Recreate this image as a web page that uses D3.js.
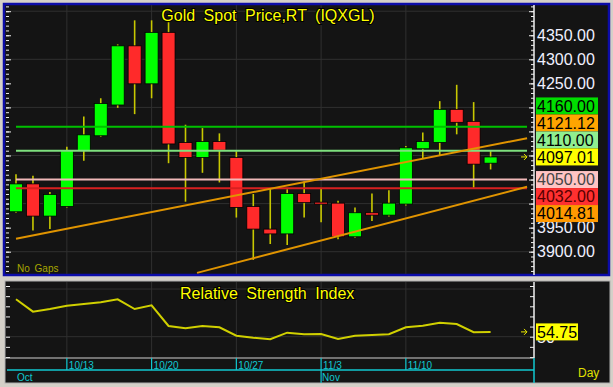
<!DOCTYPE html>
<html>
<head>
<meta charset="utf-8">
<title>Gold Spot Price,RT (IQXGL)</title>
<script src="https://d3js.org/d3.v7.min.js"></script>
<style>
body {margin:0; background:#d4d0c8;}
svg {display:block; font-family:Arial, "Liberation Sans", sans-serif;}
</style>
</head>
<body>
<script>
// daily bars, no gaps
var dates = ["2025-10-08","2025-10-09","2025-10-10","2025-10-13","2025-10-14","2025-10-15","2025-10-16","2025-10-17",
  "2025-10-20","2025-10-21","2025-10-22","2025-10-23","2025-10-24","2025-10-27","2025-10-28","2025-10-29","2025-10-30",
  "2025-10-31","2025-11-03","2025-11-04","2025-11-05","2025-11-06","2025-11-07","2025-11-10","2025-11-11","2025-11-12",
  "2025-11-13","2025-11-14","2025-11-17"];
var opens  = [3983, 4041, 3974, 3994, 4110, 4141, 4205, 4328, 4249, 4356, 4127, 4096, 4129, 4096, 3994,
              3947, 3937, 4021, 4003, 4001, 3931, 3981, 3976, 3999, 4114, 4127, 4196, 4171, 4084];
var highs  = [4061, 4058, 4024, 4118, 4181, 4219, 4331, 4381, 4381, 4377, 4164, 4157, 4146, 4109, 4020,
              4032, 4030, 4046, 4032, 4006, 3992, 4021, 4028, 4120, 4148, 4213, 4247, 4211, 4110];
var lows   = [3981, 3944, 3947, 3992, 4089, 4139, 4199, 4186, 4219, 4084, 4004, 4064, 4044, 3971, 3883,
              3916, 3914, 3971, 3961, 3926, 3929, 3964, 3973, 3996, 4094, 4100, 4144, 4033, 4071];
var closes = [4041, 3974, 4019, 4110, 4143, 4208, 4328, 4249, 4356, 4124, 4096, 4129, 4111, 3992, 3947,
              3937, 4021, 4002, 3999, 3931, 3981, 3976, 4001, 4116, 4129, 4196, 4169, 4082, 4097.01];
var rsi    = [86.9, 74.7, 77.3, 80.6, 82.3, 83.9, 86.9, 77.3, 81, 60.6, 58.3, 60.6, 59.3, 51, 49,
              47.5, 54, 52.4, 52.7, 47.8, 51, 51.7, 52.4, 59.3, 60.9, 63.8, 62.5, 54.5, 54.75];

var weekTicks  = ["2025-10-13", "2025-10-20", "2025-10-27", "2025-11-03", "2025-11-10"];
var monthTicks = ["2025-10-08", "2025-11-03"];

var levels = [4160, 4110, 4050, 4032];
var levelColors = ["#00c000", "#7ee07e", "#f0b8b8", "#d82020"];
// trend lines: [bar index, price] at each end
var trendStart = [[0, 3927], [10.68, 3856]];
var trendEnd   = [[30.15, 4136], [30.15, 4035]];

var tagValues = [4160, 4121.12, 4110, 4097.01, 4050, 4032, 4014.81];
var tagColors = ["#00dd00", "#ffa500", "#90ee90", "#ffff00", "#ffc4c4", "#ff3030", "#ff9900"];
var tagText   = ["#000", "#000", "#000", "#000", "#444", "#500", "#000"];
var priceTicks = [4350, 4300, 4250, 3950, 3900];
var rsiTicks = [50];
var rsiLast = 54.75;

var W = 613, H = 387;
var svg = d3.select("body").append("svg").attr("width", W).attr("height", H);
svg.append("rect").attr("width", W).attr("height", H).attr("fill", "#d4d0c8");

var x = d3.scaleLinear().domain([0, 28]).range([16, 490.6]);
var y = d3.scaleLinear().domain([3900, 4300]).range([251.7, 59.3]);
var yr = d3.scaleLinear().domain([30, 100]).range([357, 286]);
var parse = d3.timeParse("%Y-%m-%d");
var days = dates.map(parse);

var weeks = weekTicks.map(function(d) { return dates.indexOf(d); });
var months = monthTicks.map(function(d) { return dates.indexOf(d); });

// ---------- price panel ----------
svg.append("rect").attr("x", 4).attr("y", 4).attr("width", 605).attr("height", 271)
  .attr("fill", "#141414").attr("stroke", "#0c0ca8").attr("stroke-width", 2.5);
svg.append("clipPath").attr("id", "clipTop").append("rect")
  .attr("x", 6).attr("y", 5).attr("width", 528).attr("height", 269);

var upper = svg.append("g");
upper.selectAll(".hg").data([3900, 4000, 4100, 4200, 4300, 4400]).enter().append("line")
  .attr("x1", 6).attr("x2", 534).attr("y1", y).attr("y2", y)
  .attr("stroke", "#303030");
upper.selectAll(".vg").data(weeks).enter().append("line")
  .attr("x1", x).attr("x2", x).attr("y1", 5).attr("y2", 274)
  .attr("stroke", "#303030");

// tick strips on both sides
var minor = d3.range(3850, 4460, 10).filter(function(v) { return y(v) > 6 && y(v) < 273; });
var major = minor.filter(function(v) { return v % 50 == 0; });
function strip(g, vals, len, scale) {
  g.call(d3.axisRight(scale).tickValues(vals).tickSize(len).tickFormat(""));
  g.select(".domain").remove();
  g.selectAll("line").attr("stroke", "#f0f0f0");
}
strip(upper.append("g").attr("transform", "translate(6,0)"), minor, 3, y);
strip(upper.append("g").attr("transform", "translate(6,0)"), major, 5, y);
strip(upper.append("g").attr("transform", "translate(534,0)"), minor, -3, y);
strip(upper.append("g").attr("transform", "translate(534,0)"), major, -5, y);
upper.append("line").attr("x1", 534).attr("x2", 534).attr("y1", 5).attr("y2", 275)
  .attr("stroke", "#f0f0f0").attr("stroke-width", 1.5);

// candles
var bars = upper.selectAll(".bar").data(dates).enter().append("g");
bars.append("line")
  .attr("x1", function(d, i) { return x(i); }).attr("x2", function(d, i) { return x(i); })
  .attr("y1", function(d, i) { return y(highs[i]); })
  .attr("y2", function(d, i) { return y(lows[i]); })
  .attr("stroke", "#c8c800").attr("stroke-width", 1.6);
bars.append("rect")
  .attr("x", function(d, i) { return x(i) - 6.5; })
  .attr("width", 13)
  .attr("y", function(d, i) { return y(Math.max(opens[i], closes[i])); })
  .attr("height", function(d, i) { return Math.max(2, Math.abs(y(opens[i]) - y(closes[i]))); })
  .attr("fill", function(d, i) { return closes[i] >= opens[i] ? "#00ff00" : "#ff2a2a"; })
  .attr("stroke", "#000").attr("stroke-width", 0.8);

// horizontal levels
upper.selectAll(".lvl").data(levels).enter().append("line")
  .attr("x1", 16).attr("x2", 527).attr("y1", y).attr("y2", y)
  .attr("stroke", function(d, i) { return levelColors[i]; }).attr("stroke-width", 2);

// trend lines
upper.append("g").attr("clip-path", "url(#clipTop)")
  .selectAll("line").data(trendStart).enter().append("line")
  .attr("x1", function(d) { return x(d[0]); }).attr("y1", function(d) { return y(d[1]); })
  .attr("x2", function(d, i) { return x(trendEnd[i][0]); })
  .attr("y2", function(d, i) { return y(trendEnd[i][1]); })
  .attr("stroke", "#e09400").attr("stroke-width", 2);

// last price arrow
function arrow(g, yy) {
  g.append("path").attr("d", "M521," + yy + "h6M524," + (yy - 3) + "l3,3l-3,3")
    .attr("fill", "none").attr("stroke", "#e8e800").attr("stroke-width", 1);
}
arrow(upper, y(closes[closes.length - 1]));

upper.append("text").attr("x", 268).attr("y", 21).attr("text-anchor", "middle")
  .style("font-size", "16px").style("word-spacing", "4px")
  .attr("fill", "#ffff00").attr("stroke", "#000").attr("stroke-width", 2)
  .attr("paint-order", "stroke")
  .text("Gold Spot Price,RT (IQXGL)");
upper.append("text").attr("x", 17).attr("y", 272)
  .style("font-size", "10px").style("word-spacing", "2px")
  .attr("fill", "#a8a800").text("No Gaps");

// price axis labels
var ax = upper.append("g").attr("transform", "translate(534,0)")
  .call(d3.axisRight(y).tickValues(priceTicks).tickSize(0).tickPadding(3)
    .tickFormat(function(d) { return d.toFixed(2); }));
ax.select(".domain").remove();
ax.selectAll("text").style("font-size", "16px").style("font-family", "Arial, 'Liberation Sans', sans-serif")
  .attr("fill", "#f0f0ff");

// coloured tags, stacked away from the last price
var tags = tagValues.map(function(v, i) { return {v: v, yy: y(v), i: i}; });
var anchor = 3, gap = 17;
for (var k = anchor - 1; k >= 0; k--) tags[k].yy = Math.min(tags[k].yy, tags[k + 1].yy - gap);
for (var k = anchor + 1; k < tags.length; k++) tags[k].yy = Math.max(tags[k].yy, tags[k - 1].yy + gap);
var tg = upper.selectAll(".tag").data(tags).enter().append("g");
tg.append("rect").attr("x", 536).attr("width", 62).attr("height", 17)
  .attr("y", function(d) { return d.yy - 8.5; })
  .attr("fill", function(d) { return tagColors[d.i]; });
tg.append("text").attr("x", 537).attr("y", function(d) { return d.yy; }).attr("dy", "0.36em")
  .style("font-size", "16px").attr("fill", function(d) { return tagText[d.i]; })
  .text(function(d) { return d.v.toFixed(2); });

// ---------- RSI panel ----------
svg.append("rect").attr("x", 5).attr("y", 281).attr("width", 605).attr("height", 102)
  .attr("fill", "#141414").attr("stroke", "#b0b0b0").attr("stroke-width", 1);
var lower = svg.append("g");
lower.selectAll(".hg").data([50, 97]).enter().append("line")
  .attr("x1", 6).attr("x2", 534).attr("y1", yr).attr("y2", yr).attr("stroke", "#303030");
lower.selectAll(".vg").data(weeks).enter().append("line")
  .attr("x1", x).attr("x2", x).attr("y1", 282).attr("y2", 358).attr("stroke", "#303030");
var rminor = d3.range(30, 101, 10);
strip(lower.append("g").attr("transform", "translate(6,0)"), rminor, 4, yr);
strip(lower.append("g").attr("transform", "translate(534,0)"), rminor, -4, yr);
lower.append("line").attr("x1", 534).attr("x2", 534).attr("y1", 282).attr("y2", 358)
  .attr("stroke", "#f0f0f0").attr("stroke-width", 1.5);
lower.append("line").attr("x1", 5).attr("x2", 534).attr("y1", 358).attr("y2", 358)
  .attr("stroke", "#d0d0d0").attr("stroke-width", 1);

lower.append("path").datum(rsi)
  .attr("d", d3.line().x(function(d, i) { return x(i); }).y(function(d) { return yr(d); }))
  .attr("fill", "none").attr("stroke", "#d0d000").attr("stroke-width", 2);
arrow(lower, yr(rsiLast));

lower.append("text").attr("x", 180).attr("y", 299)
  .style("font-size", "16px").style("word-spacing", "4px")
  .attr("fill", "#ffff00").attr("stroke", "#000").attr("stroke-width", 2)
  .attr("paint-order", "stroke")
  .text("Relative Strength Index");

// the 50 label sits mostly behind the last-value box, as in the original
var rax = lower.append("g").attr("transform", "translate(534,0)")
  .call(d3.axisRight(yr).tickValues(rsiTicks).tickSize(0).tickPadding(3));
rax.select(".domain").remove();
rax.selectAll("text").style("font-size", "16px").style("font-family", "Arial, 'Liberation Sans', sans-serif")
  .attr("fill", "#f0f0ff").attr("dy", "0.36em");
lower.append("rect").attr("x", 536).attr("width", 42).attr("height", 17)
  .attr("y", yr(rsiLast) - 8.5).attr("fill", "#ffff00");
lower.append("text").attr("x", 537).attr("y", yr(rsiLast)).attr("dy", "0.36em")
  .style("font-size", "16px").attr("fill", "#000").text(rsiLast.toFixed(2));

// ---------- date axis ----------
var cyan = "#10c8d0";
var dax = svg.append("g");
dax.append("line").attr("x1", 7).attr("x2", 534).attr("y1", 370).attr("y2", 370)
  .attr("stroke", cyan).attr("stroke-width", 1.5);
dax.append("line").attr("x1", 534).attr("x2", 534).attr("y1", 358).attr("y2", 383)
  .attr("stroke", cyan).attr("stroke-width", 1.5);
var fmt = d3.timeFormat("%-m/%-d");
dax.selectAll(".wk").data(weeks).enter().append("line")
  .attr("x1", x).attr("x2", x).attr("y1", 358)
  .attr("y2", function(i) { return months.indexOf(i) > 0 ? 383 : 370; })
  .attr("stroke", cyan).attr("stroke-width", 1.2);
dax.selectAll(".wl").data(weeks).enter().append("text")
  .attr("x", function(i) { return x(i) + 2; }).attr("y", 369)
  .style("font-size", "10px").attr("fill", cyan)
  .text(function(i) { return fmt(days[i]); });
dax.selectAll(".ml").data(months).enter().append("text")
  .attr("x", function(i) { return x(i) + 1; }).attr("y", 381)
  .style("font-size", "10px").attr("fill", cyan)
  .text(function(i) { return d3.timeFormat("%b")(days[i]); });
svg.append("text").attr("x", 578).attr("y", 377)
  .style("font-size", "12px").attr("fill", "#e0e000").text("Day");
</script>
</body>
</html>
